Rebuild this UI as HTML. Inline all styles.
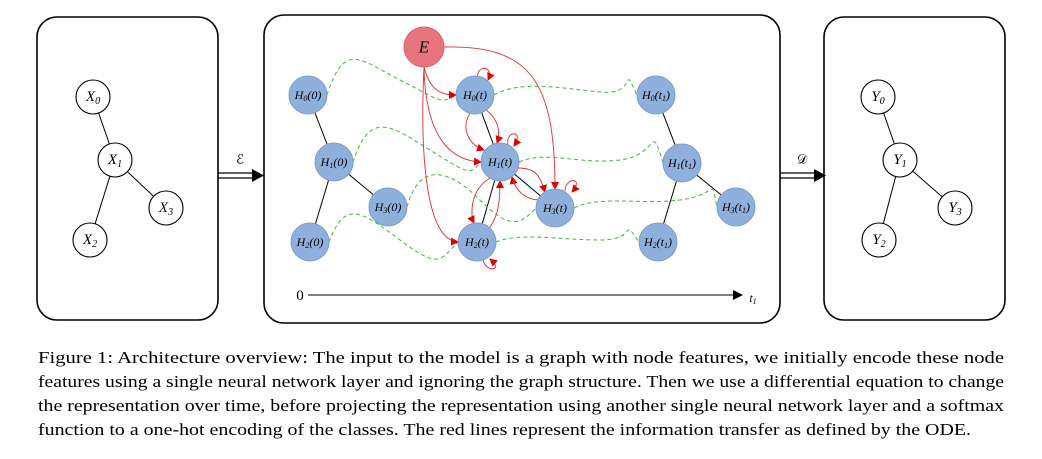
<!DOCTYPE html>
<html><head><meta charset="utf-8"><style>
body{margin:0;background:#fff;width:1042px;height:459px;overflow:hidden}
svg{display:block}
.n{fill:#8fb0dc;stroke:#7e9cc6;stroke-width:1}
.w{fill:#fff;stroke:#000;stroke-width:1.1}
.t{font-family:"Liberation Serif",serif;font-style:italic;font-size:12px;text-anchor:middle;dominant-baseline:central}
.T{font-family:"Liberation Serif",serif;font-style:italic;font-size:15px;text-anchor:middle;dominant-baseline:central}
.g{fill:none;stroke:#3cba3c;stroke-width:1;stroke-dasharray:4,3}
.r{fill:none;stroke:#e03030;stroke-width:0.9}
.cap{font-family:"Liberation Serif",serif;font-size:17px}
</style></head><body>
<svg width="1042" height="459" viewBox="0 0 1042 459">
<defs><marker id="ra" markerWidth="8" markerHeight="8" refX="7" refY="4" orient="auto" markerUnits="userSpaceOnUse"><path d="M0,0L8,4L0,8z" fill="#e00000"/></marker>
<marker id="ba" markerWidth="10" markerHeight="10" refX="9" refY="5" orient="auto" markerUnits="userSpaceOnUse"><path d="M0,0L10,5L0,10z" fill="#000"/></marker></defs>
<rect x="37" y="17" width="181" height="303" rx="20" fill="none" stroke="#000" stroke-width="1.6"/>
<rect x="264" y="15" width="516" height="308" rx="20" fill="none" stroke="#000" stroke-width="1.6"/>
<rect x="824" y="17" width="181" height="303" rx="20" fill="none" stroke="#000" stroke-width="1.6"/>
<!-- left graph -->
<g stroke="#000" stroke-width="1"><line x1="93" y1="97" x2="115" y2="160"/><line x1="115" y1="160" x2="166" y2="208"/><line x1="115" y1="160" x2="90" y2="240"/>
<line x1="878" y1="97" x2="900" y2="160"/><line x1="900" y1="160" x2="955" y2="208"/><line x1="900" y1="160" x2="879" y2="240"/></g>
<circle class="w" cx="93" cy="97" r="17"/><text class="T" x="93" y="97">X<tspan font-size="10" dy="4">0</tspan></text>
<circle class="w" cx="115" cy="160" r="17"/><text class="T" x="115" y="160">X<tspan font-size="10" dy="4">1</tspan></text>
<circle class="w" cx="166" cy="208" r="17"/><text class="T" x="166" y="208">X<tspan font-size="10" dy="4">3</tspan></text>
<circle class="w" cx="90" cy="240" r="17"/><text class="T" x="90" y="240">X<tspan font-size="10" dy="4">2</tspan></text>
<circle class="w" cx="878" cy="97" r="17"/><text class="T" x="878" y="97">Y<tspan font-size="10" dy="4">0</tspan></text>
<circle class="w" cx="900" cy="160" r="17"/><text class="T" x="900" y="160">Y<tspan font-size="10" dy="4">1</tspan></text>
<circle class="w" cx="955" cy="208" r="17"/><text class="T" x="955" y="208">Y<tspan font-size="10" dy="4">3</tspan></text>
<circle class="w" cx="879" cy="240" r="17"/><text class="T" x="879" y="240">Y<tspan font-size="10" dy="4">2</tspan></text>
<!-- double arrows -->
<g stroke="#000" stroke-width="1.2"><line x1="218" y1="173" x2="254" y2="173"/><line x1="218" y1="178" x2="254" y2="178"/>
<line x1="780" y1="173" x2="816" y2="173"/><line x1="780" y1="178" x2="816" y2="178"/></g>
<path d="M252,169L264,175.5L252,182z"/><path d="M814,169L826,175.5L814,182z"/>
<text class="T" x="240" y="160" style="font-style:normal;font-family:'DejaVu Serif',serif;font-size:13px">ℰ</text>
<text class="T" x="802" y="160" style="font-style:normal;font-family:'DejaVu Serif',serif;font-size:13px">𝒟</text>
<!-- middle black edges -->
<g stroke="#000" stroke-width="1"><line x1="308" y1="95" x2="334" y2="162"/><line x1="334" y1="162" x2="388" y2="207"/><line x1="334" y1="162" x2="310" y2="242"/>
<line x1="475" y1="95" x2="500" y2="162"/><line x1="500" y1="162" x2="555" y2="208"/><line x1="500" y1="162" x2="477" y2="242"/>
<line x1="656" y1="95" x2="682" y2="163"/><line x1="682" y1="163" x2="736" y2="207"/><line x1="682" y1="163" x2="658" y2="242"/></g>
<!-- green dashed -->
<path class="g" d="M327,95C345,40 360,60 400,80S440,105 456,95"/>
<path class="g" d="M494,95C520,80 560,88 600,92S620,60 637,95"/>
<path class="g" d="M353,162C370,110 390,125 430,150S470,175 481,162"/>
<path class="g" d="M519,162C545,150 580,165 620,160S650,120 663,163"/>
<path class="g" d="M407,207C420,160 450,170 480,200S520,225 536,208"/>
<path class="g" d="M574,208C600,195 640,205 680,200S710,175 717,207"/>
<path class="g" d="M329,242C345,200 360,210 400,240S440,260 458,242"/>
<path class="g" d="M496,242C520,232 560,240 600,240S620,215 639,242"/>
<!-- red edges -->
<g class="r" marker-end="url(#ra)">
<path d="M424,67C430,90 440,95 456,95"/>
<path d="M424,67C425,120 440,160 481,162"/>
<path d="M424,67C420,150 425,240 458,242"/>
<path d="M444,47C530,45 555,80 555,189"/>
<path d="M470,113C460,130 470,145 484,150"/>
<path d="M486,110C500,120 500,135 497,143"/>
<path d="M490,178C470,190 470,215 474,223"/>
<path d="M485,232C500,220 500,195 500,181"/>
<path d="M518,168C535,168 540,175 545,192"/>
<path d="M540,200C525,200 515,190 512,177"/>
<path d="M478,78C475,65 495,65 488,80"/>
<path d="M508,145C505,130 525,130 514,146"/>
<path d="M565,191C565,177 585,177 572,192"/>
<path d="M483,260C485,272 505,272 490,259"/>
</g>
<!-- nodes -->
<g>
<circle cx="424" cy="47" r="20" fill="#e8747d" stroke="#d86070"/><text class="T" x="424" y="47" style="font-size:17px">E</text>
<circle class="n" cx="308" cy="95" r="19"/><text class="t" x="308" y="95">H<tspan font-size="8" dy="3">0</tspan><tspan dy="-3">(0)</tspan></text>
<circle class="n" cx="334" cy="162" r="19"/><text class="t" x="334" y="162">H<tspan font-size="8" dy="3">1</tspan><tspan dy="-3">(0)</tspan></text>
<circle class="n" cx="388" cy="207" r="19"/><text class="t" x="388" y="207">H<tspan font-size="8" dy="3">3</tspan><tspan dy="-3">(0)</tspan></text>
<circle class="n" cx="310" cy="242" r="19"/><text class="t" x="310" y="242">H<tspan font-size="8" dy="3">2</tspan><tspan dy="-3">(0)</tspan></text>
<circle class="n" cx="475" cy="95" r="19"/><text class="t" x="475" y="95">H<tspan font-size="8" dy="3">0</tspan><tspan dy="-3">(t)</tspan></text>
<circle class="n" cx="500" cy="162" r="19"/><text class="t" x="500" y="162">H<tspan font-size="8" dy="3">1</tspan><tspan dy="-3">(t)</tspan></text>
<circle class="n" cx="555" cy="208" r="19"/><text class="t" x="555" y="208">H<tspan font-size="8" dy="3">3</tspan><tspan dy="-3">(t)</tspan></text>
<circle class="n" cx="477" cy="242" r="19"/><text class="t" x="477" y="242">H<tspan font-size="8" dy="3">2</tspan><tspan dy="-3">(t)</tspan></text>
<circle class="n" cx="656" cy="95" r="19"/><text class="t" x="656" y="95">H<tspan font-size="8" dy="3">0</tspan><tspan dy="-3">(t</tspan><tspan font-size="8" dy="3">1</tspan><tspan dy="-3">)</tspan></text>
<circle class="n" cx="682" cy="163" r="19"/><text class="t" x="682" y="163">H<tspan font-size="8" dy="3">1</tspan><tspan dy="-3">(t</tspan><tspan font-size="8" dy="3">1</tspan><tspan dy="-3">)</tspan></text>
<circle class="n" cx="736" cy="207" r="19"/><text class="t" x="736" y="207">H<tspan font-size="8" dy="3">3</tspan><tspan dy="-3">(t</tspan><tspan font-size="8" dy="3">1</tspan><tspan dy="-3">)</tspan></text>
<circle class="n" cx="658" cy="242" r="19"/><text class="t" x="658" y="242">H<tspan font-size="8" dy="3">2</tspan><tspan dy="-3">(t</tspan><tspan font-size="8" dy="3">1</tspan><tspan dy="-3">)</tspan></text>
</g>
<!-- axis -->
<text x="300" y="296" class="T" style="font-style:normal">0</text>
<line x1="308" y1="295" x2="742" y2="295" stroke="#000" stroke-width="1" marker-end="url(#ba)"/>
<text x="753" y="298" class="t">t<tspan font-size="8" dy="3">1</tspan></text>
<!-- caption -->
<g class="cap">
<text x="38" y="363" textLength="966" lengthAdjust="spacingAndGlyphs">Figure 1: Architecture overview: The input to the model is a graph with node features, we initially encode these node</text>
<text x="38" y="387" textLength="966" lengthAdjust="spacingAndGlyphs">features using a single neural network layer and ignoring the graph structure. Then we use a differential equation to change</text>
<text x="38" y="411" textLength="966" lengthAdjust="spacingAndGlyphs">the representation over time, before projecting the representation using another single neural network layer and a softmax</text>
<text x="38" y="435" textLength="933" lengthAdjust="spacingAndGlyphs">function to a one-hot encoding of the classes. The red lines represent the information transfer as defined by the ODE.</text>
</g>
</svg>
</body></html>
